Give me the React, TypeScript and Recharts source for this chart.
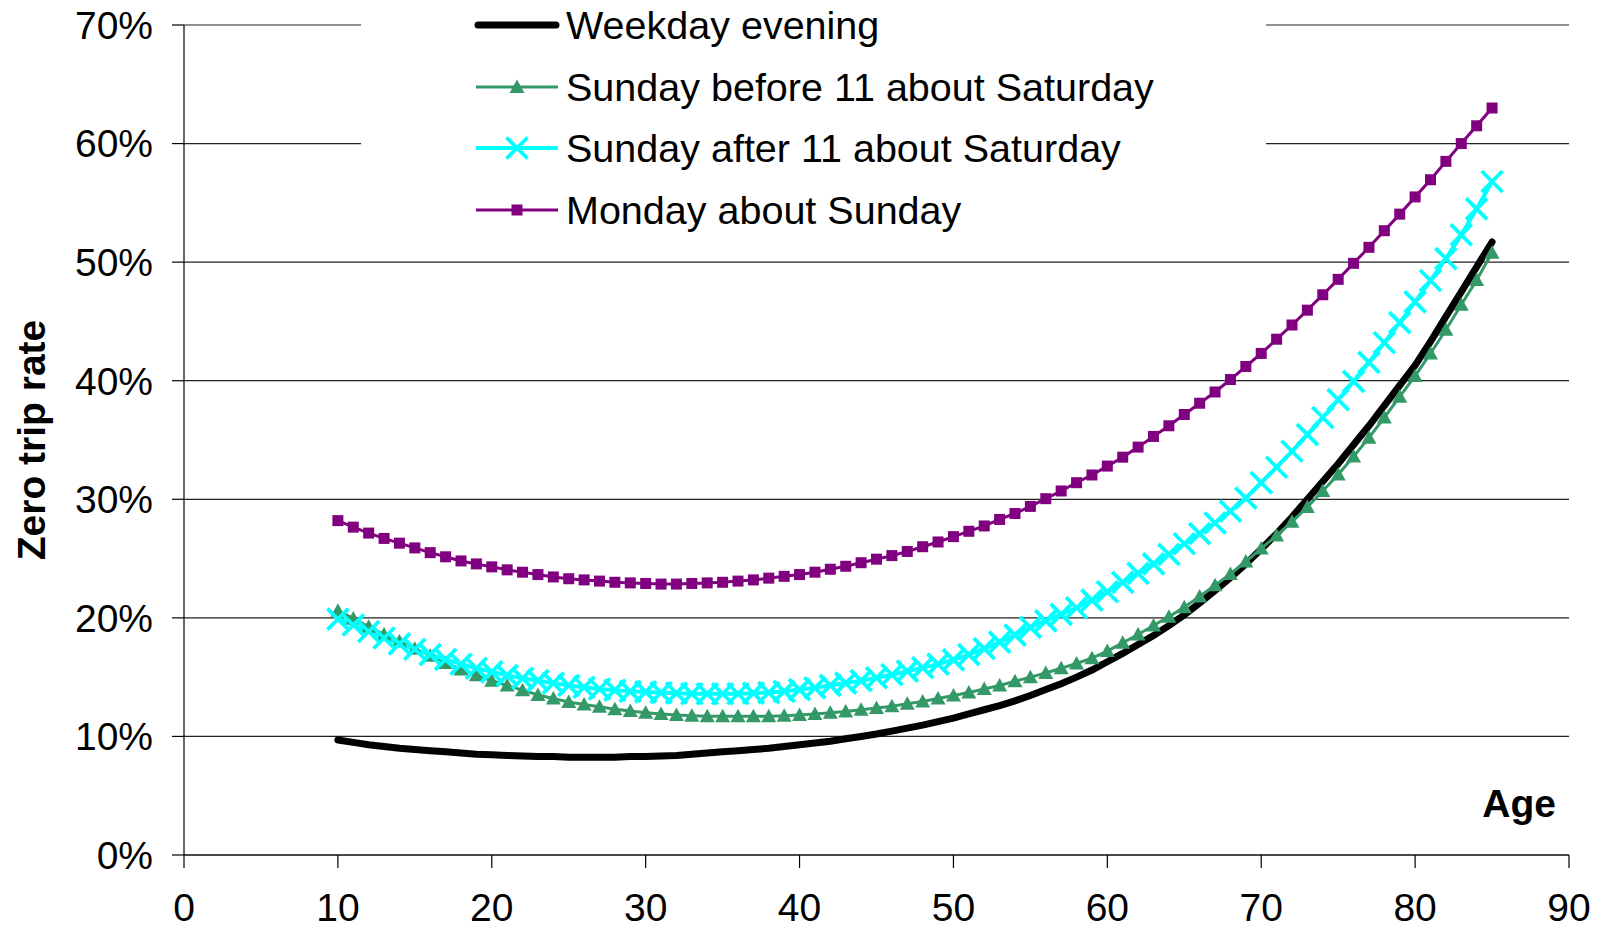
import * as React from 'react';
import { LineChart, Line, XAxis, YAxis, CartesianGrid } from 'recharts';

// ages on the x axis (one point per year)
const ages = [
  10, 11, 12, 13, 14, 15, 16, 17, 18, 19, 20, 21, 22, 23, 24, 25, 26, 27, 28, 29,
  30, 31, 32, 33, 34, 35, 36, 37, 38, 39, 40, 41, 42, 43, 44, 45, 46, 47, 48, 49,
  50, 51, 52, 53, 54, 55, 56, 57, 58, 59, 60, 61, 62, 63, 64, 65, 66, 67, 68, 69,
  70, 71, 72, 73, 74, 75, 76, 77, 78, 79, 80, 81, 82, 83, 84, 85,
];

// zero trip rate in %
const weekdayEvening = [
  9.7, 9.5, 9.3, 9.15, 9.0, 8.9, 8.8, 8.7, 8.6, 8.5, 8.45, 8.4, 8.35, 8.3, 8.3, 8.25, 8.25, 8.25, 8.25, 8.3,
  8.3, 8.35, 8.4, 8.5, 8.6, 8.7, 8.8, 8.9, 9.0, 9.15, 9.3, 9.45, 9.6, 9.8, 10.0, 10.2, 10.45, 10.7, 10.95, 11.25,
  11.55, 11.9, 12.25, 12.6, 13.0, 13.45, 13.95, 14.45, 15.0, 15.6, 16.3, 17.0, 17.75, 18.5, 19.35, 20.25, 21.25, 22.3, 23.4, 24.55,
  25.8, 27.1, 28.5, 30.0, 31.5, 33.0, 34.6, 36.2, 37.9, 39.6, 41.3, 43.3, 45.4, 47.5, 49.6, 51.7,
];

const sundayBefore11 = [
  20.6, 19.95, 19.25, 18.6, 18.0, 17.4, 16.8, 16.2, 15.65, 15.15, 14.7, 14.3, 13.9, 13.5, 13.2, 12.9, 12.7, 12.5, 12.3, 12.15,
  12.0, 11.9, 11.8, 11.75, 11.7, 11.7, 11.7, 11.7, 11.7, 11.75, 11.8, 11.9, 12.0, 12.1, 12.25, 12.4, 12.55, 12.75, 12.95, 13.2,
  13.45, 13.7, 14.0, 14.3, 14.65, 15.0, 15.35, 15.75, 16.15, 16.6, 17.2, 17.9, 18.6, 19.35, 20.1, 20.9, 21.8, 22.75, 23.7, 24.75,
  25.85, 26.95, 28.1, 29.35, 30.7, 32.1, 33.6, 35.2, 36.9, 38.65, 40.4, 42.3, 44.3, 46.4, 48.5, 50.8,
];

const sundayAfter11 = [
  19.9, 19.4, 18.85, 18.3, 17.8, 17.35, 16.9, 16.5, 16.1, 15.75, 15.45, 15.15, 14.9, 14.7, 14.5, 14.3, 14.15, 14.0, 13.9, 13.8,
  13.75, 13.7, 13.65, 13.6, 13.6, 13.6, 13.6, 13.65, 13.7, 13.8, 13.95, 14.1, 14.3, 14.5, 14.7, 14.95, 15.2, 15.5, 15.8, 16.1,
  16.45, 16.9, 17.4, 17.95, 18.55, 19.2, 19.75, 20.3, 20.85, 21.5, 22.2, 23.0, 23.75, 24.55, 25.35, 26.25, 27.1, 28.0, 29.0, 30.1,
  31.4, 32.7, 34.05, 35.45, 36.9, 38.4, 39.95, 41.55, 43.2, 44.9, 46.65, 48.45, 50.3, 52.3, 54.5, 56.8,
];

const mondayAboutSunday = [
  28.2, 27.65, 27.15, 26.7, 26.3, 25.9, 25.5, 25.15, 24.8, 24.55, 24.3, 24.05, 23.85, 23.65, 23.45, 23.3, 23.2, 23.1, 23.0, 22.95,
  22.9, 22.85, 22.85, 22.9, 22.95, 23.0, 23.1, 23.2, 23.35, 23.5, 23.65, 23.85, 24.1, 24.35, 24.65, 24.95, 25.25, 25.6, 26.0, 26.4,
  26.85, 27.3, 27.75, 28.3, 28.8, 29.4, 30.05, 30.7, 31.4, 32.05, 32.8, 33.55, 34.4, 35.3, 36.2, 37.15, 38.1, 39.05, 40.1, 41.2,
  42.3, 43.5, 44.7, 45.95, 47.25, 48.55, 49.9, 51.25, 52.65, 54.05, 55.5, 56.95, 58.5, 60.0, 61.5, 63.0,
];

const xTicks = [0, 10, 20, 30, 40, 50, 60, 70, 80, 90];
const yTicks = [0, 10, 20, 30, 40, 50, 60, 70];

const seriesNames = [
  'Weekday evening',
  'Sunday before 11 about Saturday',
  'Sunday after 11 about Saturday',
  'Monday about Sunday',
];

const FONT = '"Liberation Sans", Arial, sans-serif';
const GREEN = '#339966';
const CYAN = '#00FFFF';
const PURPLE = '#800080';

const data = ages.map((age, i) => ({
  age,
  weekday: weekdayEvening[i],
  before11: sundayBefore11[i],
  after11: sundayAfter11[i],
  monday: mondayAboutSunday[i],
}));

const TriangleDot = (props: any) => {
  const { cx, cy, index } = props;
  if (cx == null || cy == null) return <g key={index} />;
  return (
    <path
      key={index}
      d={`M${cx},${cy - 7.5} L${cx + 7.5},${cy + 6} L${cx - 7.5},${cy + 6} Z`}
      fill={GREEN}
    />
  );
};

const CrossDot = (props: any) => {
  const { cx, cy, index } = props;
  if (cx == null || cy == null) return <g key={index} />;
  const r = 10.5;
  return (
    <g key={index} stroke={CYAN} strokeWidth={3.8}>
      <line x1={cx - r} y1={cy - r} x2={cx + r} y2={cy + r} />
      <line x1={cx - r} y1={cy + r} x2={cx + r} y2={cy - r} />
    </g>
  );
};

const SquareDot = (props: any) => {
  const { cx, cy, index } = props;
  if (cx == null || cy == null) return <g key={index} />;
  return <rect key={index} x={cx - 5.5} y={cy - 5.5} width={11} height={11} fill={PURPLE} />;
};

function LegendSample({ kind }: { kind: number }) {
  return (
    <svg width={86} height={26} style={{ display: 'block' }}>
      {kind === 0 && <line x1={4} y1={13} x2={82} y2={13} stroke="#000" strokeWidth={7} strokeLinecap="round" />}
      {kind === 1 && (
        <>
          <line x1={2} y1={13} x2={84} y2={13} stroke={GREEN} strokeWidth={3} />
          <path d="M43,5.5 L50.5,19 L35.5,19 Z" fill={GREEN} />
        </>
      )}
      {kind === 2 && (
        <>
          <line x1={2} y1={13} x2={84} y2={13} stroke={CYAN} strokeWidth={3.8} />
          <line x1={32.5} y1={2.5} x2={53.5} y2={23.5} stroke={CYAN} strokeWidth={3.8} />
          <line x1={32.5} y1={23.5} x2={53.5} y2={2.5} stroke={CYAN} strokeWidth={3.8} />
        </>
      )}
      {kind === 3 && (
        <>
          <line x1={2} y1={13} x2={84} y2={13} stroke={PURPLE} strokeWidth={3} />
          <rect x={37.5} y={7.5} width={11} height={11} fill={PURPLE} />
        </>
      )}
    </svg>
  );
}

export default function App() {
  return (
    <div style={{ position: 'absolute', left: 0, top: 0, width: 1608, height: 929, background: '#fff' }}>
      <LineChart
        width={1608}
        height={929}
        data={data}
        margin={{ top: 25, right: 39, bottom: 0, left: 0 }}
        style={{ fontFamily: FONT }}
      >
        <CartesianGrid horizontal vertical={false} stroke="#222" strokeWidth={1.2} />
        <XAxis
          dataKey="age"
          type="number"
          domain={[0, 90]}
          ticks={xTicks}
          interval={0}
          height={74}
          tickSize={13}
          tickMargin={25}
          axisLine={{ stroke: '#000', strokeWidth: 1.2 }}
          tickLine={{ stroke: '#000', strokeWidth: 1.2 }}
          tick={{ fontSize: 39, fill: '#000', fontFamily: FONT }}
          label={(p: any) => (
            <text
              x={1556}
              y={817}
              textAnchor="end"
              fontSize={39}
              fontWeight="bold"
              fontFamily={FONT}
              fill="#000"
            >
              Age
            </text>
          )}
        />
        <YAxis
          type="number"
          domain={[0, 70]}
          ticks={yTicks}
          interval={0}
          width={184}
          tickSize={12}
          tickMargin={19}
          tickFormatter={(v: number) => `${v}%`}
          axisLine={{ stroke: '#000', strokeWidth: 1.2 }}
          tickLine={{ stroke: '#000', strokeWidth: 1.2 }}
          tick={{ fontSize: 39, fill: '#000', fontFamily: FONT }}
          label={(p: any) => (
            <text
              x={31}
              y={440}
              transform="rotate(-90 31 440)"
              textAnchor="middle"
              dominantBaseline="central"
              fontSize={39}
              fontWeight="bold"
              fontFamily={FONT}
              fill="#000"
            >
              Zero trip rate
            </text>
          )}
        />
        <Line
          dataKey="weekday"
          name={seriesNames[0]}
          stroke="#000"
          strokeWidth={7}
          strokeLinecap="round"
          dot={false}
          activeDot={false}
          isAnimationActive={false}
        />
        <Line
          dataKey="before11"
          name={seriesNames[1]}
          stroke={GREEN}
          strokeWidth={3}
          dot={TriangleDot}
          activeDot={false}
          isAnimationActive={false}
        />
        <Line
          dataKey="after11"
          name={seriesNames[2]}
          stroke={CYAN}
          strokeWidth={4}
          dot={CrossDot}
          activeDot={false}
          isAnimationActive={false}
        />
        <Line
          dataKey="monday"
          name={seriesNames[3]}
          stroke={PURPLE}
          strokeWidth={3}
          dot={SquareDot}
          activeDot={false}
          isAnimationActive={false}
        />
      </LineChart>

      {/* legend box, drawn over the plot like the original */}
      <div
        style={{
          position: 'absolute',
          left: 361,
          top: 0,
          width: 905,
          height: 238,
          background: '#fff',
          fontFamily: FONT,
          fontSize: 39.5,
          color: '#000',
        }}
      >
        {seriesNames.map((name, i) => (
          <div
            key={name}
            style={{
              position: 'absolute',
              left: 113,
              top: 24.6 + i * 61.9 - 25,
              height: 50,
              display: 'flex',
              alignItems: 'center',
              whiteSpace: 'nowrap',
            }}
          >
            <LegendSample kind={i} />
            <span style={{ marginLeft: 6, lineHeight: '50px' }}>{name}</span>
          </div>
        ))}
      </div>
    </div>
  );
}
